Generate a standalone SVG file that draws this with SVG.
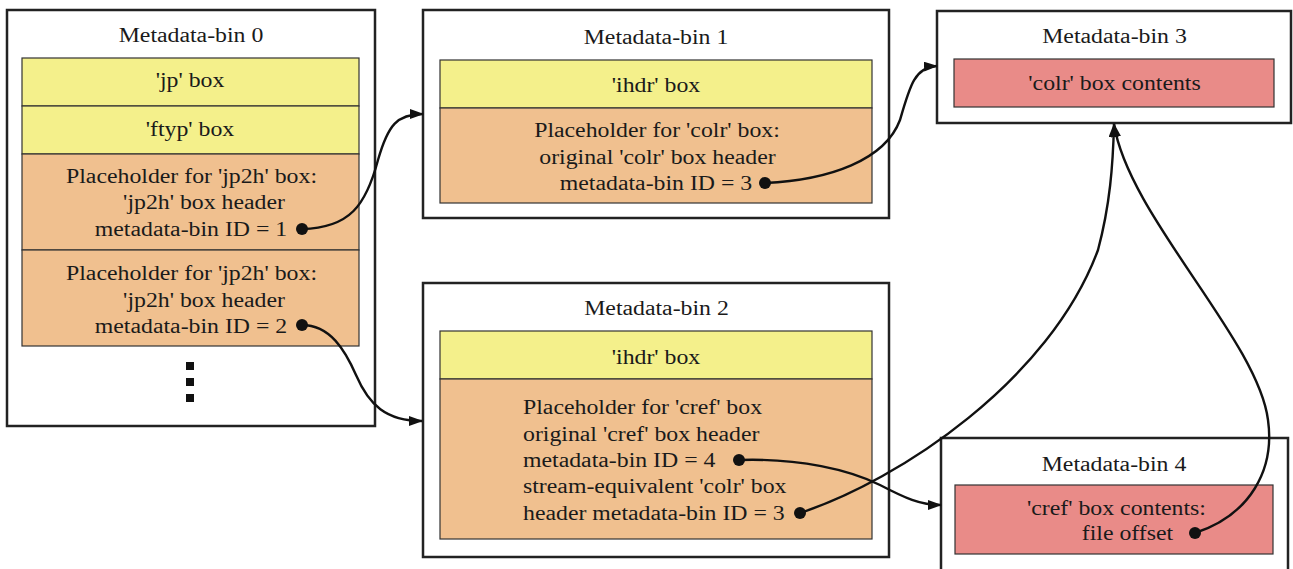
<svg xmlns="http://www.w3.org/2000/svg" width="1293" height="569" viewBox="0 0 1293 569">
<style>
.outer{fill:#fff;stroke:#222;stroke-width:2.5}
.y{fill:#f4f08b;stroke:#333;stroke-width:1.2}
.o{fill:#f0c08f;stroke:#333;stroke-width:1.2}
.r{fill:#e98b88;stroke:#333;stroke-width:1.2}
text{font-family:"Liberation Serif","Times New Roman",serif;font-size:20px;fill:#1a1a1a}
.m{text-anchor:middle}
.c{fill:none;stroke:#111;stroke-width:2.4}
.dot{fill:#111}
</style>
<defs>
<marker id="ah" viewBox="0 0 14 10" refX="13" refY="5" markerWidth="14" markerHeight="10" markerUnits="userSpaceOnUse" orient="auto">
<path d="M0,0 L14,5 L0,10 Z" fill="#111"/>
</marker>
</defs>

<g id="bin0">
<rect class="outer" x="7" y="10" width="368" height="416"/>
<text class="m" transform="translate(191,42) scale(1.19,1)">Metadata-bin 0</text>
<rect class="y" x="22" y="58" width="337" height="48"/>
<text class="m" transform="translate(190,87) scale(1.19,1)">'jp' box</text>
<rect class="y" x="22" y="106" width="337" height="48"/>
<text class="m" transform="translate(190,136) scale(1.19,1)">'ftyp' box</text>
<rect class="o" x="22" y="154" width="337" height="96"/>
<text class="m" transform="translate(191.5,183) scale(1.19,1)">Placeholder for 'jp2h' box:</text>
<text class="m" transform="translate(204,209) scale(1.19,1)">'jp2h' box header</text>
<text class="m" transform="translate(191,236) scale(1.19,1)">metadata-bin ID = 1</text>
<rect class="o" x="22" y="250" width="337" height="96"/>
<text class="m" transform="translate(191.5,280) scale(1.19,1)">Placeholder for 'jp2h' box:</text>
<text class="m" transform="translate(204,307) scale(1.19,1)">'jp2h' box header</text>
<text class="m" transform="translate(191,333) scale(1.19,1)">metadata-bin ID = 2</text>
<rect x="186" y="362" width="8" height="8" fill="#111"/>
<rect x="186" y="378" width="8" height="8" fill="#111"/>
<rect x="186" y="394" width="8" height="8" fill="#111"/>
</g>

<g id="bin1">
<rect class="outer" x="423" y="10" width="466" height="208"/>
<text class="m" transform="translate(656,44) scale(1.19,1)">Metadata-bin 1</text>
<rect class="y" x="440" y="60" width="432" height="48"/>
<text class="m" transform="translate(656,92) scale(1.19,1)">'ihdr' box</text>
<rect class="o" x="440" y="108" width="432" height="95"/>
<text class="m" transform="translate(657,137) scale(1.19,1)">Placeholder for 'colr' box:</text>
<text class="m" transform="translate(657.5,164) scale(1.19,1)">original 'colr' box header</text>
<text class="m" transform="translate(656,190) scale(1.19,1)">metadata-bin ID = 3</text>
</g>

<g id="bin2">
<rect class="outer" x="423" y="283" width="466" height="274"/>
<text class="m" transform="translate(656.5,315) scale(1.19,1)">Metadata-bin 2</text>
<rect class="y" x="440" y="331" width="432" height="48"/>
<text class="m" transform="translate(656,364) scale(1.19,1)">'ihdr' box</text>
<rect class="o" x="440" y="379" width="432" height="160"/>
<text transform="translate(523,414) scale(1.19,1)">Placeholder for 'cref' box</text>
<text transform="translate(523,441) scale(1.19,1)">original 'cref' box header</text>
<text transform="translate(523,467) scale(1.19,1)">metadata-bin ID = 4</text>
<text transform="translate(523,493) scale(1.19,1)">stream-equivalent 'colr' box</text>
<text transform="translate(523,520) scale(1.19,1)">header metadata-bin ID = 3</text>
</g>

<g id="bin3">
<rect class="outer" x="937" y="11" width="354" height="112"/>
<text class="m" transform="translate(1114.5,43) scale(1.19,1)">Metadata-bin 3</text>
<rect class="r" x="954" y="59" width="320" height="48"/>
<text class="m" transform="translate(1114.5,90) scale(1.19,1)">'colr' box contents</text>
</g>

<g id="bin4">
<rect class="outer" x="941" y="438" width="347" height="140"/>
<text class="m" transform="translate(1114,471) scale(1.19,1)">Metadata-bin 4</text>
<rect class="r" x="955" y="485" width="318" height="69"/>
<text class="m" transform="translate(1116.5,515) scale(1.19,1)">'cref' box contents:</text>
<text class="m" transform="translate(1127.5,540) scale(1.19,1)">file offset</text>
</g>

<g id="connectors">
<path class="c" marker-end="url(#ah)" d="M302,229 C350,228 366,205 378,160 C388,125 397,114 423,114"/>
<path class="c" marker-end="url(#ah)" d="M302,325 C330,325 345,350 356,375 C369,405 386,421 422,421"/>
<path class="c" marker-end="url(#ah)" d="M765,183 C830,180 885,160 900,120 C910,85 915,67 937,66"/>
<path class="c" marker-end="url(#ah)" d="M800,513 C900,480 1050,380 1098,250 C1110,205 1113,165 1114,124"/>
<path class="c" marker-end="url(#ah)" d="M1195,533 C1250,515 1275,470 1268,420 C1258,340 1128,215 1114,124"/>
<path class="c" marker-end="url(#ah)" d="M739,460 C800,458 850,470 880,485 C905,498 920,505 941,505"/>
<circle class="dot" cx="302" cy="229" r="6"/>
<circle class="dot" cx="302" cy="325" r="6"/>
<circle class="dot" cx="765" cy="183" r="6"/>
<circle class="dot" cx="739" cy="460" r="6"/>
<circle class="dot" cx="800" cy="513" r="6"/>
<circle class="dot" cx="1195" cy="533" r="6"/>
</g>
</svg>
